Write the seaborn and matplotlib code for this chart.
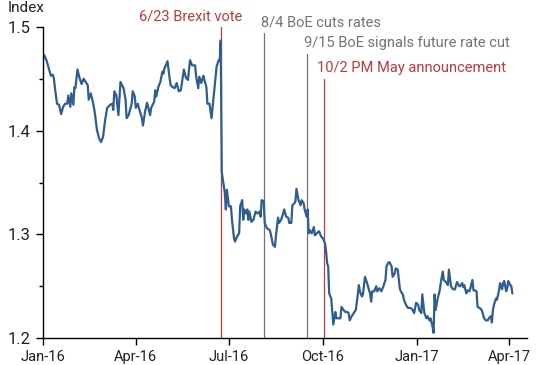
import matplotlib
matplotlib.use("Agg")
import matplotlib.pyplot as plt
import matplotlib.dates as mdates
from matplotlib.ticker import MultipleLocator
import seaborn as sns
import pandas as pd

# -----------------------------
# Data
# -----------------------------
start = pd.Timestamp("2016-01-01")

# days since 2016-01-01
days = [
    0, 2, 4, 6, 8, 10, 11, 12, 14, 16, 18, 20, 22, 24, 25, 27, 28, 30, 31, 32,
    34, 36, 38, 40, 42, 44, 45, 47, 49, 51, 53, 55, 57, 59, 61, 63, 66, 68, 69, 70,
    72, 74, 76, 79, 81, 82, 84, 87, 88, 90, 91, 93, 94, 97, 98, 100, 102, 105, 106, 109,
    110, 111, 113, 115, 117, 118, 119, 122, 124, 125, 127, 129, 131, 133, 135, 137, 138, 140, 142, 144,
    146, 149, 150, 152, 153, 155, 157, 158, 160, 161, 163, 165, 166, 168, 170, 172, 173, 174, 175, 178,
    179, 180, 182, 184, 185, 187, 188, 190, 192, 193, 195, 196, 197, 199, 200, 201, 202, 204, 206, 208,
    210, 212, 213, 214, 216, 217, 219, 222, 223, 225, 227, 228, 230, 231, 233, 235, 236, 238, 240, 241,
    243, 244, 246, 247, 248, 250, 252, 253, 255, 256, 258, 259, 260, 261, 263, 265, 266, 268, 270, 271,
    272, 274, 276, 277, 278, 279, 280, 282, 283, 284, 286, 287, 289, 291, 292, 294, 296, 298, 299, 300,
    302, 304, 306, 308, 309, 310, 312, 313, 315, 317, 319, 320, 321, 322, 324, 326, 327, 329, 331, 333,
    335, 336, 338, 339, 341, 342, 344, 345, 347, 349, 350, 352, 353, 355, 357, 359, 361, 363, 365, 367,
    368, 370, 371, 373, 375, 376, 378, 379, 381, 382, 383, 384, 386, 388, 389, 391, 392, 394, 396, 397,
    399, 401, 403, 404, 405, 407, 408, 410, 411, 412, 414, 415, 417, 418, 420, 421, 422, 424, 425, 427,
    429, 430, 431, 433, 435, 436, 438, 439, 440, 441, 443, 444, 446, 447, 449, 450, 451, 453, 454, 455,
    457, 458, 459,
]

index_values = [
    1.474, 1.472, 1.467, 1.460, 1.453, 1.454, 1.450, 1.441, 1.426, 1.425, 1.416, 1.423, 1.426, 1.426, 1.434, 1.423, 1.436, 1.425, 1.442, 1.441,
    1.459, 1.451, 1.445, 1.450, 1.447, 1.444, 1.430, 1.436, 1.428, 1.417, 1.401, 1.393, 1.389, 1.394, 1.410, 1.422, 1.425, 1.426, 1.420, 1.438,
    1.434, 1.415, 1.447, 1.441, 1.430, 1.412, 1.415, 1.426, 1.438, 1.433, 1.422, 1.426, 1.422, 1.412, 1.405, 1.418, 1.427, 1.415, 1.422, 1.428,
    1.439, 1.433, 1.442, 1.447, 1.457, 1.455, 1.460, 1.467, 1.451, 1.444, 1.442, 1.441, 1.446, 1.438, 1.439, 1.452, 1.459, 1.451, 1.449, 1.468,
    1.463, 1.463, 1.452, 1.441, 1.452, 1.446, 1.453, 1.449, 1.442, 1.426, 1.426, 1.412, 1.422, 1.442, 1.462, 1.468, 1.467, 1.487, 1.360, 1.340,
    1.324, 1.343, 1.327, 1.327, 1.314, 1.296, 1.293, 1.298, 1.301, 1.327, 1.333, 1.314, 1.324, 1.320, 1.324, 1.314, 1.322, 1.312, 1.314, 1.322,
    1.320, 1.322, 1.317, 1.333, 1.332, 1.311, 1.306, 1.304, 1.300, 1.290, 1.288, 1.299, 1.316, 1.311, 1.314, 1.320, 1.324, 1.317, 1.316, 1.311,
    1.311, 1.328, 1.330, 1.332, 1.344, 1.333, 1.328, 1.333, 1.330, 1.324, 1.317, 1.324, 1.301, 1.304, 1.301, 1.307, 1.299, 1.301, 1.303, 1.301,
    1.298, 1.296, 1.291, 1.283, 1.272, 1.269, 1.243, 1.238, 1.226, 1.213, 1.225, 1.219, 1.219, 1.219, 1.230, 1.227, 1.225, 1.225, 1.224, 1.217,
    1.221, 1.224, 1.227, 1.242, 1.251, 1.245, 1.240, 1.242, 1.259, 1.253, 1.246, 1.243, 1.235, 1.245, 1.245, 1.250, 1.245, 1.248, 1.245, 1.250,
    1.256, 1.269, 1.273, 1.273, 1.269, 1.259, 1.262, 1.267, 1.266, 1.248, 1.245, 1.242, 1.237, 1.232, 1.229, 1.229, 1.228, 1.224, 1.234, 1.232,
    1.227, 1.224, 1.242, 1.224, 1.219, 1.221, 1.217, 1.219, 1.211, 1.205, 1.242, 1.227, 1.238, 1.246, 1.253, 1.264, 1.256, 1.254, 1.251, 1.266,
    1.250, 1.247, 1.247, 1.251, 1.254, 1.250, 1.250, 1.253, 1.249, 1.251, 1.243, 1.246, 1.245, 1.248, 1.256, 1.246, 1.246, 1.245, 1.230, 1.229,
    1.227, 1.224, 1.220, 1.217, 1.217, 1.219, 1.221, 1.215, 1.227, 1.232, 1.238, 1.237, 1.246, 1.253, 1.247, 1.253, 1.255, 1.245, 1.248, 1.255,
    1.251, 1.250, 1.243,
]

# events: date, line top, label, colour kind
event_dates = ["2016-06-23", "2016-08-04", "2016-09-15", "2016-10-02"]
event_tops = [1.500, 1.494, 1.474, 1.450]
event_labels = ["6/23 Brexit vote", "8/4 BoE cuts rates",
                "9/15 BoE signals future rate cut", "10/2 PM May announcement"]
event_red = [True, False, False, True]

df = pd.DataFrame({
    "date": start + pd.to_timedelta(days, unit="D"),
    "index": index_values,
})

# -----------------------------
# Plot
# -----------------------------
sns.set_style("ticks")
plt.rcParams["font.family"] = ["Roboto", "DejaVu Sans"]

RED = "#c0393b"
GREY = "#737373"
BLUE = "#2f5d8f"

fig = plt.figure(figsize=(5.5, 3.65), dpi=100)
ax = fig.add_axes([0.0776, 0.074, 0.88, 0.852])

sns.lineplot(data=df, x="date", y="index", ax=ax, color=BLUE, linewidth=1.6)

# label offsets relative to each event line (days, index units)
label_dx = [-80, -3, -3, -7]
label_y = [1.5105, 1.5048, 1.4846, 1.4605]

for d, top, txt, red, dx, ly in zip(event_dates, event_tops, event_labels,
                                     event_red, label_dx, label_y):
    c = RED if red else GREY
    dt = pd.Timestamp(d)
    ax.plot([dt, dt], [1.2, top], color=c, linewidth=0.9, zorder=1)
    ax.text(dt + pd.Timedelta(days=dx), ly, txt, color=c, fontsize=10.5,
            ha="left", va="center", clip_on=False)

ax.set_xlim(pd.Timestamp("2016-01-01"), pd.Timestamp("2017-04-18"))
ax.set_ylim(1.2, 1.5)
ax.yaxis.set_major_locator(MultipleLocator(0.1))
ax.yaxis.set_minor_locator(MultipleLocator(0.05))
ax.yaxis.set_major_formatter(plt.FuncFormatter(lambda v, p: f"{v:.1f}"))
ax.xaxis.set_major_locator(mdates.MonthLocator(bymonth=[1, 4, 7, 10]))
ax.xaxis.set_major_formatter(mdates.DateFormatter("%b-%y"))

ax.tick_params(axis="both", which="major", length=5, width=1, color="black",
               labelcolor="#222222")
ax.tick_params(axis="y", which="major", labelsize=12)
ax.tick_params(axis="x", which="major", labelsize=10.5)
ax.tick_params(axis="y", which="minor", length=3, width=1, color="black")

sns.despine(ax=ax)
for s in ["left", "bottom"]:
    ax.spines[s].set_color("black")
    ax.spines[s].set_linewidth(1)

ax.set_xlabel("")
ax.set_ylabel("")
fig.text(0.013, 0.977, "Index", fontsize=11, color="#222222", ha="left", va="center")

fig.savefig("out.png", dpi=100)
